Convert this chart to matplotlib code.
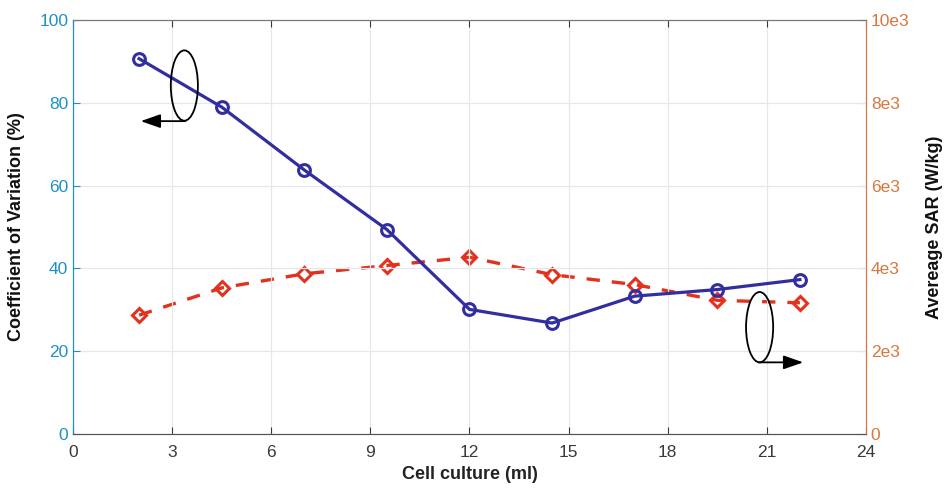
import matplotlib.pyplot as plt
from matplotlib.patches import Ellipse

plt.rcParams["font.family"] = ["Liberation Sans", "DejaVu Sans"]

# data
volume_ml = [2, 4.5, 7, 9.5, 12, 14.5, 17, 19.5, 22]
cv_percent = [90.7, 79.0, 63.8, 49.4, 30.1, 26.8, 33.3, 34.9, 37.3]
sar_wkg = [2870, 3530, 3870, 4070, 4270, 3850, 3610, 3230, 3170]

x_ticks = [0, 3, 6, 9, 12, 15, 18, 21, 24]
cv_ticks = [0, 20, 40, 60, 80, 100]
sar_ticks = [0, 2000, 4000, 6000, 8000, 10000]
sar_tick_labels = ["0", "2e3", "4e3", "6e3", "8e3", "10e3"]

left_c = "#1f8fc7"
right_c = "#d9773f"
blue = "#322ea0"
red = "#e2321e"

fig = plt.figure(figsize=(9.48, 4.92), dpi=100)
ax1 = fig.add_axes([0.077, 0.118, 0.8365, 0.841])
ax2 = ax1.twinx()
ax1.set_zorder(ax2.get_zorder() + 1)
ax1.patch.set_visible(False)

ax2.plot(volume_ml, sar_wkg, color=red, linestyle=(0, (4, 3.6)), linewidth=2.4,
         marker="D", markersize=7, markerfacecolor="none", markeredgewidth=2.2)
ax1.plot(volume_ml, cv_percent, color=blue, linewidth=2.3,
         marker="o", markersize=8.5, markerfacecolor="none", markeredgewidth=2.2)

ax1.set_xlim(0, 24)
ax1.set_ylim(0, 100)
ax2.set_ylim(0, 10000)
ax1.set_xticks(x_ticks)
ax1.set_yticks(cv_ticks)
ax2.set_yticks(sar_ticks)
ax2.set_yticklabels(sar_tick_labels)

ax1.grid(True, color="#e4e8ee", linewidth=0.9)
ax1.set_axisbelow(True)

ax1.tick_params(axis="x", direction="in", top=True, colors="#3a3a3a", labelsize=12.5, length=5, pad=8)
ax1.tick_params(axis="y", direction="in", colors=left_c, labelsize=12.5, length=5)
ax2.tick_params(axis="y", direction="in", colors=right_c, labelsize=12.5, length=5)
ax2.tick_params(axis="x", top=False, bottom=False)

for ax in (ax1, ax2):
    ax.spines["bottom"].set_color("#555555")
    ax.spines["top"].set_color("#777777")
    ax.spines["left"].set_color(left_c)
    ax.spines["right"].set_color(right_c)

ax1.set_xlabel("Cell culture (ml)", fontsize=13, fontweight="bold", color="#222222", labelpad=4)
ax1.set_ylabel("Coefficient of Variation (%)", fontsize=13, fontweight="bold", color="#111111", labelpad=10)
ax2.set_ylabel("Avereage SAR (W/kg)", fontsize=13, fontweight="bold", color="#111111", labelpad=12)

# rotation marks pointing to each axis
arrow = dict(arrowstyle="-|>,head_length=1.2,head_width=0.42", color="black", lw=1.3, shrinkA=0, shrinkB=0)
ax1.add_patch(Ellipse((3.37, 84.2), 0.82, 17, fill=False, edgecolor="black", linewidth=1.3, zorder=5))
ax1.annotate("", xy=(2.05, 75.6), xytext=(3.4, 75.6), arrowprops=arrow, zorder=5)
ax1.add_patch(Ellipse((20.78, 25.8), 0.82, 17, fill=False, edgecolor="black", linewidth=1.3, zorder=5))
ax1.annotate("", xy=(22.1, 17.3), xytext=(20.75, 17.3), arrowprops=arrow, zorder=5)

fig.savefig("out.png", dpi=100)
